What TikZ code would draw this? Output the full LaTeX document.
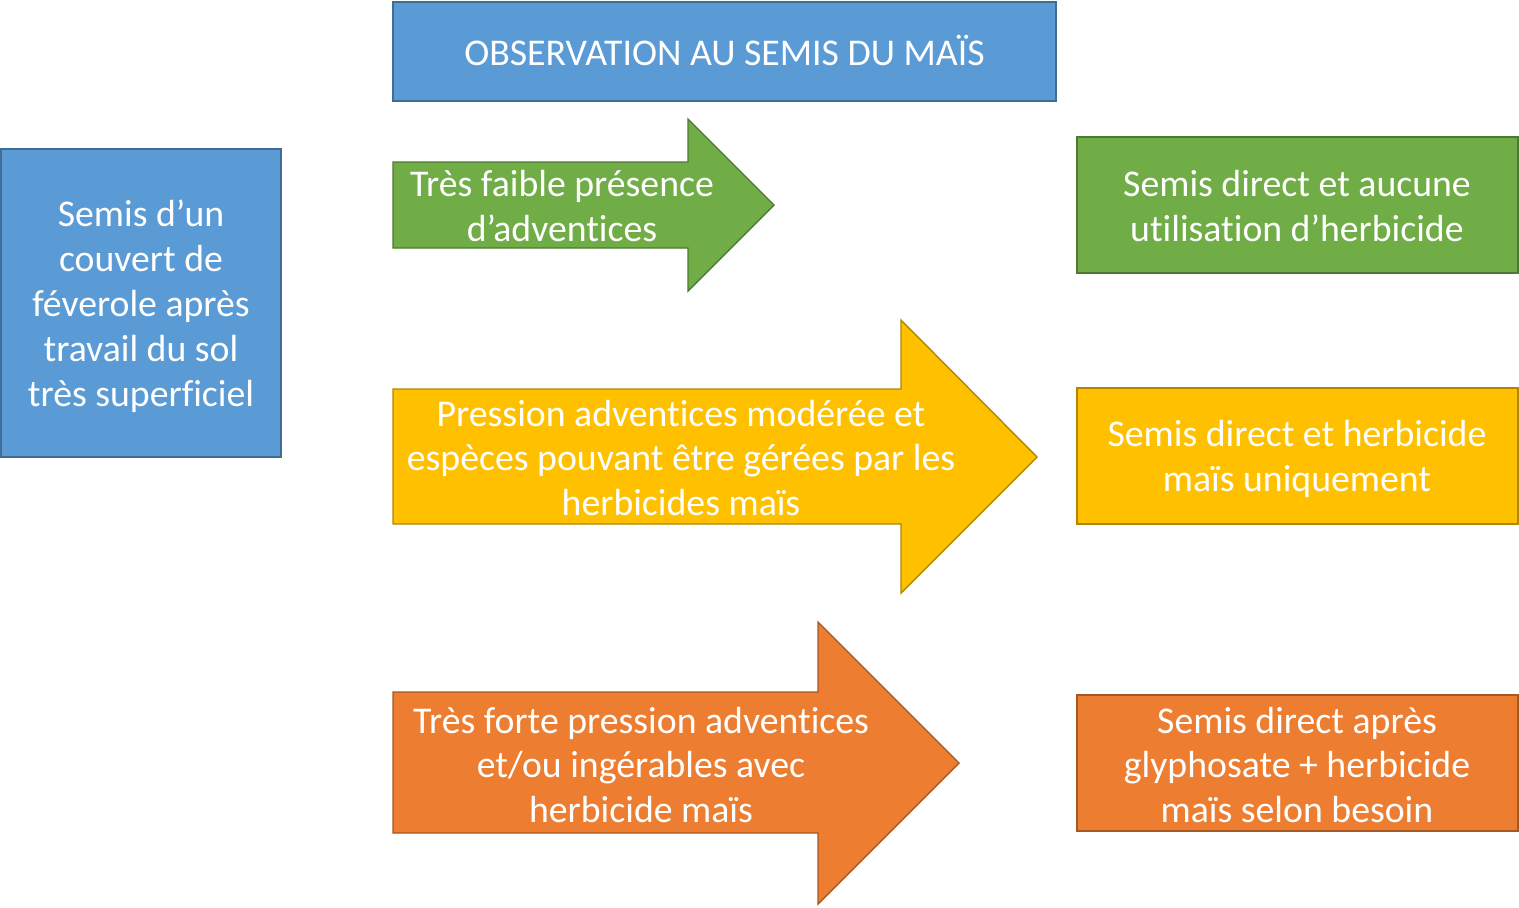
\documentclass[tikz,border=0pt]{standalone}
\usepackage{fontspec}
\setmainfont{Carlito}[Ligatures=NoCommon]
\definecolor{obsblue}{HTML}{5B9BD5}
\definecolor{lowgreen}{HTML}{70AD47}
\definecolor{midyellow}{HTML}{FFC000}
\definecolor{highorange}{HTML}{ED7D31}
\begin{document}
\begin{tikzpicture}[x=0.02cm,y=-0.02cm,
    box/.style={draw=#1!70!black,fill=#1,line width=0.8pt},
    txt/.style={text=white,align=center,inner sep=0pt,font=\fontsize{21.5}{25.6}\selectfont}]
  \useasboundingbox (0,0) rectangle (1519,907);
  % top title and left box
  \draw[box=obsblue] (393,2) rectangle (1056,101);
  \node[txt] (obs) at (724.5,50) {OBSERVATION AU SEMIS DU MAÏS};
  \draw[box=obsblue] (1,149) rectangle (281,457);
  \node[txt] (cover) at (141,306) {Semis d’un\\couvert de\\féverole après\\travail du sol\\très superficiel};
  % arrows
  \draw[box=lowgreen] (393,162) -- (688,162) -- (688,119) -- (774,205)
    -- (688,291) -- (688,248) -- (393,248) -- cycle;
  \node[txt] (low) at (562,206.5) {Très faible présence\\d’adventices};
  \draw[box=midyellow] (393,389) -- (901,389) -- (901,320) -- (1037,457)
    -- (901,593) -- (901,524) -- (393,524) -- cycle;
  \node[txt] (mid) at (681,458) {Pression adventices modérée et\\espèces pouvant être gérées par les\\herbicides maïs};
  \draw[box=highorange] (393,692) -- (818,692) -- (818,622) -- (959,763)
    -- (818,904) -- (818,833) -- (393,833) -- cycle;
  \node[txt] (high) at (641,765) {Très forte pression adventices\\et/ou ingérables avec\\herbicide maïs};
  % results
  \draw[box=lowgreen] (1077,137) rectangle (1518,273);
  \node[txt] (lowres) at (1297,206.5) {Semis direct et aucune\\utilisation d’herbicide};
  \draw[box=midyellow] (1077,388) rectangle (1518,524);
  \node[txt] (midres) at (1297,459) {Semis direct et herbicide\\maïs uniquement};
  \draw[box=highorange] (1077,695) rectangle (1518,831);
  \node[txt] (highres) at (1297,765) {Semis direct après\\glyphosate + herbicide\\maïs selon besoin};
\end{tikzpicture}
\end{document}
